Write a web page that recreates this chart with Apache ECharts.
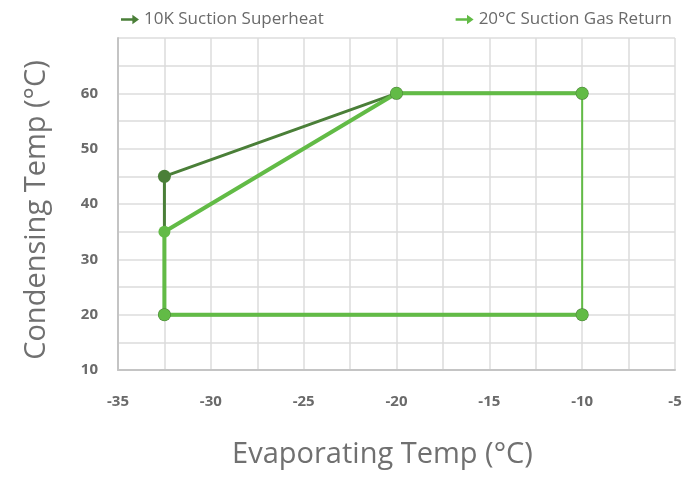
<!DOCTYPE html>
<html>
<head>
<meta charset="utf-8">
<script src="https://cdn.jsdelivr.net/npm/echarts@6/dist/echarts.min.js"></script>
<style>
	html, body { margin: 0; padding: 0; background: #fff; }
	#chart { width: 687px; height: 477px; }
</style>
</head>
<body>
<div id="chart"></div>
<script>
	// 系列名称
	var nameSuperheat = '10K Suction Superheat';
	var nameGasReturn = '20°C Suction Gas Return';

	// 10K 过热度包络线 [蒸发温度, 冷凝温度]
	var superheatPoints = [[-10, 20], [-32.5, 20], [-32.5, 45], [-20, 60], [-10, 60]];
	// 20°C 回气包络线
	var gasReturnPoints = [[-10, 20], [-32.5, 20], [-32.5, 35], [-20, 60], [-10, 60]];
	// 右侧竖线（细）
	var gasReturnRight = [[-10, 60], [-10, 20]];

	// 坐标轴范围
	var xRange = [-35, -5];
	var yRange = [10, 70];

	var darkGreen = '#4a7f38';
	var lightGreen = '#62bb46';
	var textColor = '#6a6a6a';
	var gridColor = '#dcdcdc';
	var font = '"Open Sans", "Noto Sans", sans-serif';

	var arrow = 'path://M0,3.8 L12,3.8 L12,0 L19,5 L12,10 L12,6.2 L0,6.2 Z';

	var chart = echarts.init(document.getElementById('chart'));

	var option = {
		animation: false,
		textStyle: { fontFamily: font },
		grid: { left: 118, right: 12, top: 38, bottom: 107, outerBoundsMode: 'none' },
		legend: [{
			left: 116, top: 6,
			icon: arrow, itemWidth: 18, itemHeight: 10, itemGap: 6,
			data: [nameSuperheat],
			textStyle: { color: textColor, fontSize: 17, fontFamily: font }
		}, {
			right: 10, top: 6,
			icon: arrow, itemWidth: 18, itemHeight: 10,
			data: [nameGasReturn],
			textStyle: { color: textColor, fontSize: 17, fontFamily: font }
		}],
		xAxis: {
			type: 'value',
			min: xRange[0], max: xRange[1], interval: 5,
			name: 'Evaporating Temp (°C)',
			nameLocation: 'middle', nameGap: 70,
			nameTextStyle: { color: '#707070', fontSize: 29, fontFamily: font, padding: [0, 28, 0, 0] },
			axisLine: { lineStyle: { color: '#c4c4c4', width: 2 } },
			axisTick: { show: false },
			axisLabel: { color: textColor, fontSize: 15, fontWeight: 'bold', margin: 24 },
			splitLine: { lineStyle: { color: gridColor, width: 1.5 } },
			minorTick: { show: false, splitNumber: 2 },
			minorSplitLine: { show: true, lineStyle: { color: gridColor, width: 1.5 } }
		},
		yAxis: {
			type: 'value',
			min: yRange[0], max: yRange[1], interval: 10,
			name: 'Condensing Temp (°C)',
			nameLocation: 'middle', nameGap: 67,
			nameTextStyle: { color: '#707070', fontSize: 29, fontFamily: font, padding: [0, 12, 0, 0] },
			axisLine: { show: true, lineStyle: { color: '#c4c4c4', width: 2 } },
			axisTick: { show: false },
			axisLabel: { color: textColor, fontSize: 15, fontWeight: 'bold', margin: 20, showMaxLabel: false },
			splitLine: { lineStyle: { color: gridColor, width: 1.5 } },
			minorTick: { show: false, splitNumber: 2 },
			minorSplitLine: { show: true, lineStyle: { color: gridColor, width: 1.5 } }
		},
		series: [{
			name: nameSuperheat,
			type: 'line',
			data: superheatPoints,
			symbol: 'circle', symbolSize: 13,
			itemStyle: { color: darkGreen },
			lineStyle: { color: darkGreen, width: 3 }
		}, {
			name: nameGasReturn,
			type: 'line',
			data: gasReturnRight,
			symbol: 'none',
			itemStyle: { color: lightGreen },
			lineStyle: { color: lightGreen, width: 2 }
		}, {
			name: nameGasReturn,
			type: 'line',
			data: gasReturnPoints,
			symbol: 'circle', symbolSize: 12,
			itemStyle: { color: lightGreen },
			lineStyle: { color: lightGreen, width: 4 }
		}]
	};

	chart.setOption(option);
</script>
</body>
</html>
